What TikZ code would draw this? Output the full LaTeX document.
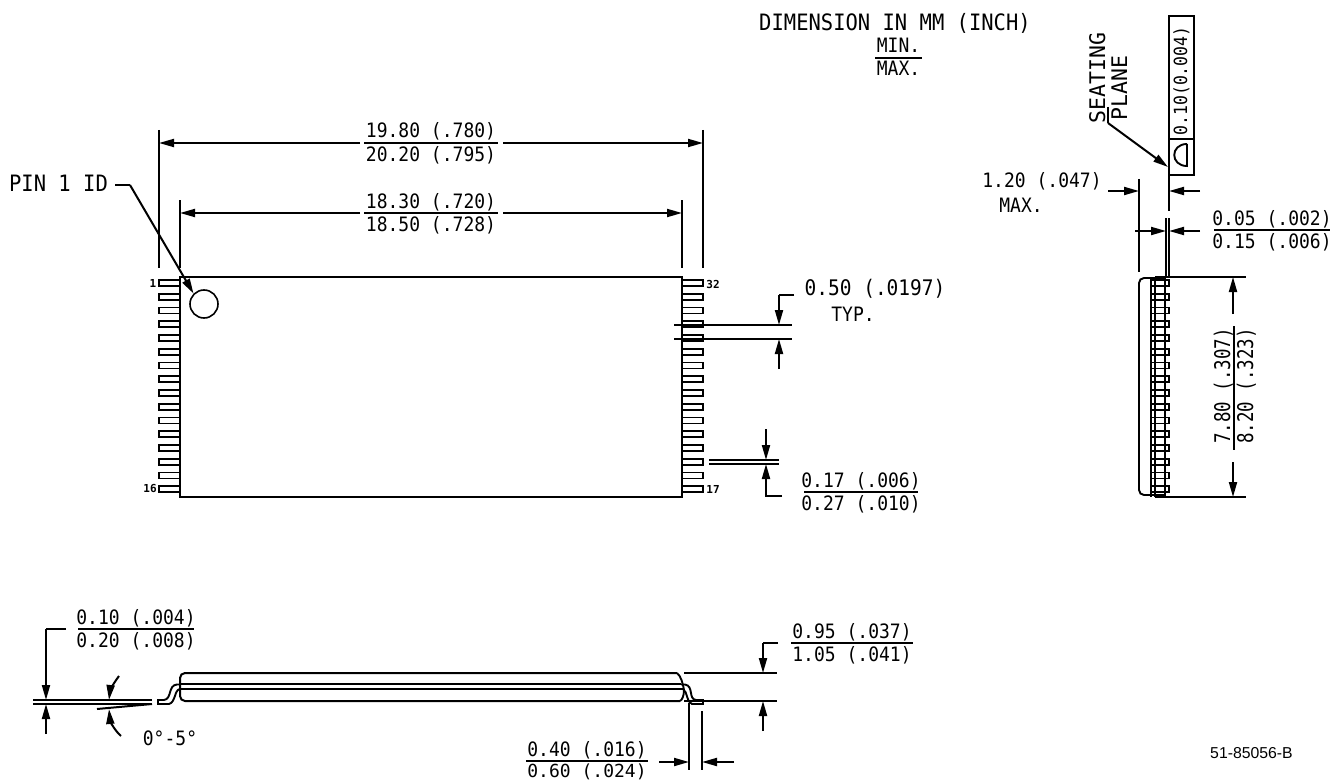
\documentclass[tikz,border=0pt]{standalone}
\usepackage{fontspec}
\usepackage{graphicx}
\setmainfont{DejaVu Sans Mono}
\newfontfamily\sansf{Liberation Sans}
\usetikzlibrary{arrows.meta}
\tikzset{
  dwg/.style={line width=2pt,line join=miter},
  thin part/.style={line width=1.9pt},
  dimarrow/.style={dwg,-{Triangle[length=15pt,width=8pt]}},
  dimtxt/.style={inner sep=0pt,font=\fontsize{18}{18}\selectfont},
  bigtxt/.style={inner sep=0pt,font=\fontsize{20.5}{20.5}\selectfont},
  tallsize/.style={inner sep=0pt,font=\fontsize{21.5}{21.5}\selectfont},
  pinlbl/.style={inner sep=0pt,font=\fontsize{11}{11}\selectfont\bfseries},
}
\newcommand{\tallt}[1]{\scalebox{1}[1.1]{#1}}
% \dimfrac{name}{xcenter}{yrule}{halfwidth}{top}{bottom}
\newcommand{\dimfrac}[6]{%
  \node[dimtxt,anchor=base] (#1t) at (#2,#3-5) {\tallt{#5}};
  \node[dimtxt,anchor=base] (#1b) at (#2,#3+18) {\tallt{#6}};
  \draw[dwg] (#2-#4,#3) -- (#2+#4,#3);
}
% \dimfracv{name}{xrule}{ycenter}{halfwidth}{top}{bottom} : rotated
\newcommand{\dimfracv}[6]{%
  \node[dimtxt,anchor=base,rotate=90] (#1t) at (#2-4,#3-2) {\scalebox{0.97}[1.2]{#5}};
  \node[dimtxt,anchor=base,rotate=90] (#1b) at (#2+19,#3-2) {\scalebox{0.97}[1.2]{#6}};
  \draw[dwg] (#2,#3-#4) -- (#2,#3+#4);
}
\begin{document}
\begin{tikzpicture}[x=1pt,y=-1pt]
\useasboundingbox (0,0) rectangle (1331,781);
\fill[white] (0,0) rectangle (1331,781);

% ---------- top note
\node[bigtxt,anchor=base] (note) at (895,31) {\tallt{DIMENSION IN MM (INCH)}};
\dimfrac{minmax}{898.5}{58}{23.5}{MIN.}{MAX.}

% ---------- plan view
\draw[dwg] (180,277) rectangle (682,497);
\foreach \i in {0,...,15}{
  \pgfmathsetmacro{\yy}{283+13.75*\i}
  \draw[thin part] (180,\yy-3) -- (159,\yy-3) -- (159,\yy+3) -- (180,\yy+3);
  \draw[thin part] (682,\yy-3) -- (703,\yy-3) -- (703,\yy+3) -- (682,\yy+3);
}
\node[pinlbl] (p1) at (153,283) {1};
\node[pinlbl] (p16) at (150,489) {16};
\node[pinlbl] (p32) at (713,284) {32};
\node[pinlbl] (p17) at (713,489) {17};
\node[draw,circle,line width=1.6pt,minimum size=28pt,inner sep=0pt] (pinid) at (204,304) {};
\node[bigtxt,anchor=base] (pin1) at (58.5,192) {\tallt{PIN 1 ID}};
\coordinate (pinknee) at (130,185);
\draw[dwg] (115,185) -- (pinknee);
\draw[dimarrow] (pinknee) -- (pinid.north west);

% 19.80 dim
\draw[dwg] (159,130) -- (159,268);
\draw[dwg] (703,130) -- (703,268);
\dimfrac{da}{431}{143}{67}{19.80 (.780)}{20.20 (.795)}
\draw[dimarrow] (360,143) -- (159,143);
\draw[dimarrow] (503,143) -- (703,143);
% 18.30 dim
\draw[dwg] (180,200) -- (180,268);
\draw[dwg] (682,200) -- (682,268);
\dimfrac{db}{431}{213}{67}{18.30 (.720)}{18.50 (.728)}
\draw[dimarrow] (360,213) -- (180,213);
\draw[dimarrow] (503,213) -- (682,213);

% 0.50 dim
\draw[dwg] (674,325) -- (792,325);
\draw[dwg] (674,339) -- (792,339);
\draw[dwg] (794,295) -- (779,295);
\draw[dimarrow] (779,295) -- (779,325);
\draw[dimarrow] (779,369) -- (779,339);
\node[inner sep=0pt,anchor=base,font=\fontsize{19.5}{19.5}\selectfont] (dc) at (875,295) {\tallt{0.50 (.0197)}};
\node[dimtxt,anchor=base] (dct) at (853,321) {\tallt{TYP.}};

% 0.17 dim
\draw[dwg] (709,460) -- (779,460);
\draw[dwg] (709,464) -- (779,464);
\draw[dimarrow] (766,429) -- (766,460);
\draw[dimarrow] (782,496) -- (766,496) -- (766,464);
\dimfrac{dd}{861}{492}{57}{0.17 (.006)}{0.27 (.010)}

% ---------- side view
\draw[dwg] (1169,16) rectangle (1194,175);
\draw[dwg] (1169,139) -- (1194,139);
\node[inner sep=0pt,anchor=base,rotate=90,font=\fontsize{16.5}{16.5}\selectfont] (flat) at (1187,81) {\scalebox{1}[1.1]{0.10(0.004)}};
\draw[thin part] (1187,144) -- (1187,166) .. controls (1170,166) and (1170,144) .. (1187,144);
\node[tallsize,anchor=base,rotate=90] (seat) at (1105,78) {SEATING};
\node[tallsize,anchor=base,rotate=90] (plane) at (1127,88) {PLANE};
\coordinate (seatk) at (1108,123);
\draw[dwg] (1108,107) -- (seatk);
\draw[dimarrow] (seatk) -- (1168,167);
\draw[dwg] (1169,175) -- (1169,211);

\node[dimtxt,anchor=base] (de) at (1042,188) {\tallt{1.20 (.047)}};
\node[dimtxt,anchor=base] (dem) at (1021,212) {\tallt{MAX.}};
\draw[dwg] (1139,179) -- (1139,272);
\draw[dimarrow] (1108,191) -- (1139,191);
\draw[dimarrow] (1200,191) -- (1169,191);
\draw[dwg] (1166,218) -- (1166,277);
\draw[dwg] (1169,218) -- (1169,277);
\draw[dimarrow] (1135,231) -- (1166,231);
\draw[dimarrow] (1200,231) -- (1169,231);
\dimfrac{df}{1272}{230}{58}{0.05 (.002)}{0.15 (.006)}

\draw[thin part,rounded corners=5pt] (1165,278) -- (1139,278) -- (1139,495) -- (1165,495);
\draw[thin part] (1151,277) -- (1151,497);
\draw[thin part] (1155,277) -- (1155,497);
\draw[thin part] (1165,277) -- (1165,497);
\foreach \i in {0,...,15}{
  \pgfmathsetmacro{\yy}{283+13.75*\i}
  \draw[thin part] (1151,\yy-3) -- (1169,\yy-3) -- (1169,\yy+3) -- (1151,\yy+3);
}
\draw[dwg] (1155,277) -- (1246,277);
\draw[dwg] (1155,497) -- (1246,497);
\draw[dimarrow] (1233,314) -- (1233,277);
\draw[dimarrow] (1233,462) -- (1233,497);
\dimfracv{dg}{1234}{388}{62}{7.80 (.307)}{8.20 (.323)}

% ---------- elevation
\draw[dwg,rounded corners=5pt] (677,673) -- (180,673) -- (180,701) -- (680,701);
\draw[thin part] (677,673) .. controls (681,676) and (683,684) .. (684,690) .. controls (684,696) and (682,700) .. (680,701);
\draw[dwg] (180,684) -- (681,684);
\draw[dwg] (180,689) -- (683,689);
% leads
\draw[thin part] (180,684.5) -- (177,684.5) .. controls (168,685) and (172,699) .. (164,700) -- (158,700) -- (158,704) -- (169,704)
   .. controls (176,702) and (174,690) .. (180,689);
\draw[thin part] (681,684.5) -- (685,684.5) .. controls (694,686) and (688,699) .. (696,700) -- (703,700) -- (703,704) -- (692,704)
   .. controls (686,702) and (688,692) .. (683,689);

% left dims
\dimfrac{dh}{136}{629}{58}{0.10 (.004)}{0.20 (.008)}
\draw[dwg] (66,629) -- (46,629);
\draw[dimarrow] (46,629) -- (46,700);
\draw[dimarrow] (46,734) -- (46,704);
\draw[dwg] (33,700) -- (152,700);
\draw[dwg] (33,704) -- (152,704);
\draw[dwg] (97,709) -- (152,704);
\draw[dimarrow] (119,676) .. controls (113,684) and (110,691) .. (109,700);
\draw[dimarrow] (121,736) .. controls (114,730) and (110,720) .. (109,709);
\node[dimtxt,anchor=base] (ang) at (170,745) {\tallt{0°-5°}};

% right dims
\draw[dwg] (684,673) -- (777,673);
\draw[dwg] (684,701) -- (777,701);
\draw[dwg] (778,643) -- (763,643);
\draw[dimarrow] (763,643) -- (763,673);
\draw[dimarrow] (763,731) -- (763,701);
\dimfrac{di}{852}{643}{61}{0.95 (.037)}{1.05 (.041)}

\draw[dwg] (689,703) -- (689,770);
\draw[dwg] (702,711) -- (702,770);
\draw[dimarrow] (659,762) -- (689,762);
\draw[dimarrow] (734,762) -- (702,762);
\node[dimtxt,anchor=base] (djt) at (587,756) {\tallt{0.40 (.016)}};
\node[dimtxt,anchor=base] (djb) at (587,777) {0.60 (.024)};
\draw[dwg] (526,761) -- (648,761);

\node[inner sep=0pt,anchor=base,font=\sansf\fontsize{15.8}{15.8}\selectfont] (ref) at (1251.5,758) {51-85056-B};
\end{tikzpicture}
\end{document}
